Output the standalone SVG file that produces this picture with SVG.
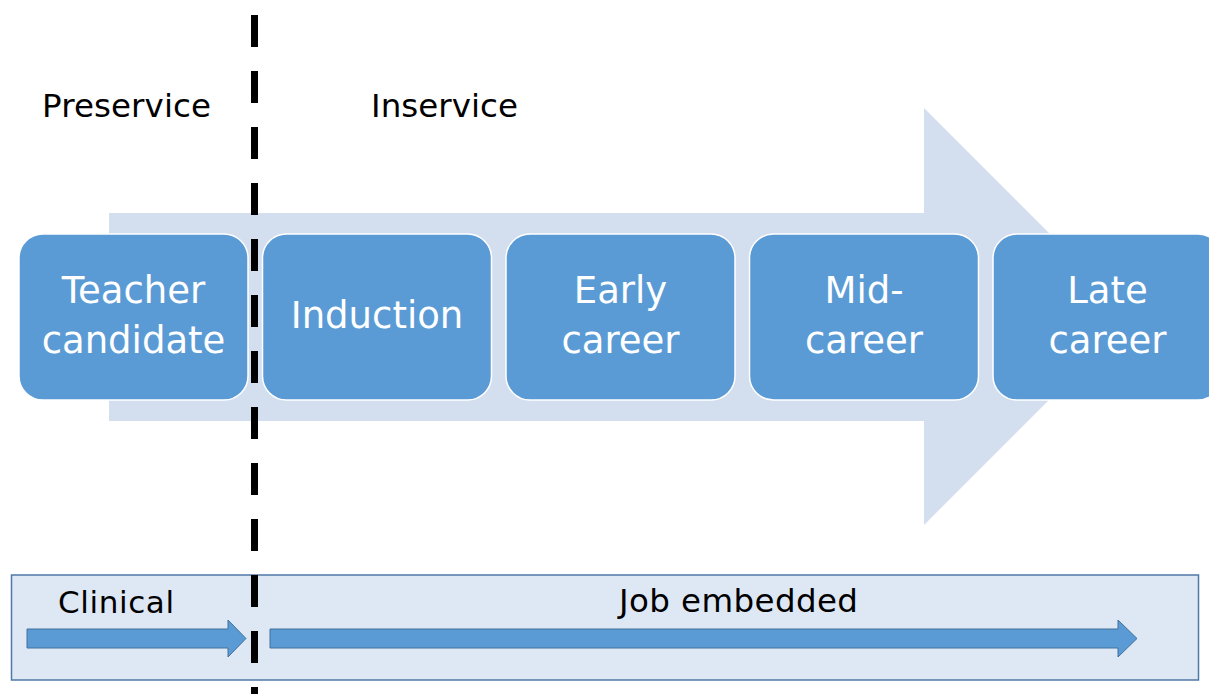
<svg xmlns="http://www.w3.org/2000/svg" width="1209" height="694" viewBox="0 0 1209 694">
  <style>
    .stage rect { fill: #5B9BD5; stroke: #FFFFFF; stroke-width: 1.5; }
    .stage text { fill: #FFFFFF; font-family: "DejaVu Sans", Verdana, sans-serif; font-size: 37px; text-anchor: middle; }
    .label { fill: #000000; font-family: "DejaVu Sans", Verdana, sans-serif; font-size: 32.5px; }
    .flow { fill: #5B9BD5; stroke: #41719C; stroke-width: 1; }
  </style>

  <rect width="1209" height="694" fill="#FFFFFF"/>

  <!-- background progression arrow -->
  <polygon id="progress-arrow" points="109,213 924,213 924,108 1132.5,316.5 924,525 924,421 109,421" fill="#D3DEEF"/>

  <!-- phase labels -->
  <text id="label-preservice" class="label" x="42" y="117" textLength="169">Preservice</text>
  <text id="label-inservice" class="label" x="371" y="117" textLength="147">Inservice</text>

  <!-- career stages -->
  <g id="stage-teacher-candidate" class="stage">
    <rect x="19" y="234" width="229" height="166" rx="24"/>
    <text x="133.5" y="303">Teacher</text>
    <text x="133.5" y="353">candidate</text>
  </g>
  <g id="stage-induction" class="stage">
    <rect x="262.5" y="234" width="229" height="166" rx="24"/>
    <text x="377" y="328">Induction</text>
  </g>
  <g id="stage-early-career" class="stage">
    <rect x="506" y="234" width="229" height="166" rx="24"/>
    <text x="620.5" y="303">Early</text>
    <text x="620.5" y="353">career</text>
  </g>
  <g id="stage-mid-career" class="stage">
    <rect x="749.5" y="234" width="229" height="166" rx="24"/>
    <text x="864" y="303">Mid-</text>
    <text x="864" y="353">career</text>
  </g>
  <g id="stage-late-career" class="stage">
    <rect x="993" y="234" width="229" height="166" rx="24"/>
    <text x="1107.5" y="303">Late</text>
    <text x="1107.5" y="353">career</text>
  </g>

  <!-- learning modes band -->
  <g id="modes-band">
    <rect x="11.5" y="575" width="1187" height="105" fill="#DEE8F4" stroke="#4F78A6" stroke-width="1.5"/>
    <text id="label-clinical" class="label" x="58" y="613" style="font-size:31px" textLength="116">Clinical</text>
    <text id="label-job-embedded" class="label" x="619" y="612" textLength="239">Job embedded</text>
  </g>

  <g id="connectors">
    <polygon id="arrow-clinical" class="flow" points="27,629 228,629 228,620 246,638.5 228,657 228,648 27,648"/>
    <polygon id="arrow-job-embedded" class="flow" points="270,629 1118,629 1118,620 1137,638.5 1118,657 1118,648 270,648"/>
  </g>

  <!-- preservice / inservice divider -->
  <line id="divider" x1="254.5" y1="15" x2="254.5" y2="694" stroke="#000000" stroke-width="7" stroke-dasharray="32 24"/>
</svg>
